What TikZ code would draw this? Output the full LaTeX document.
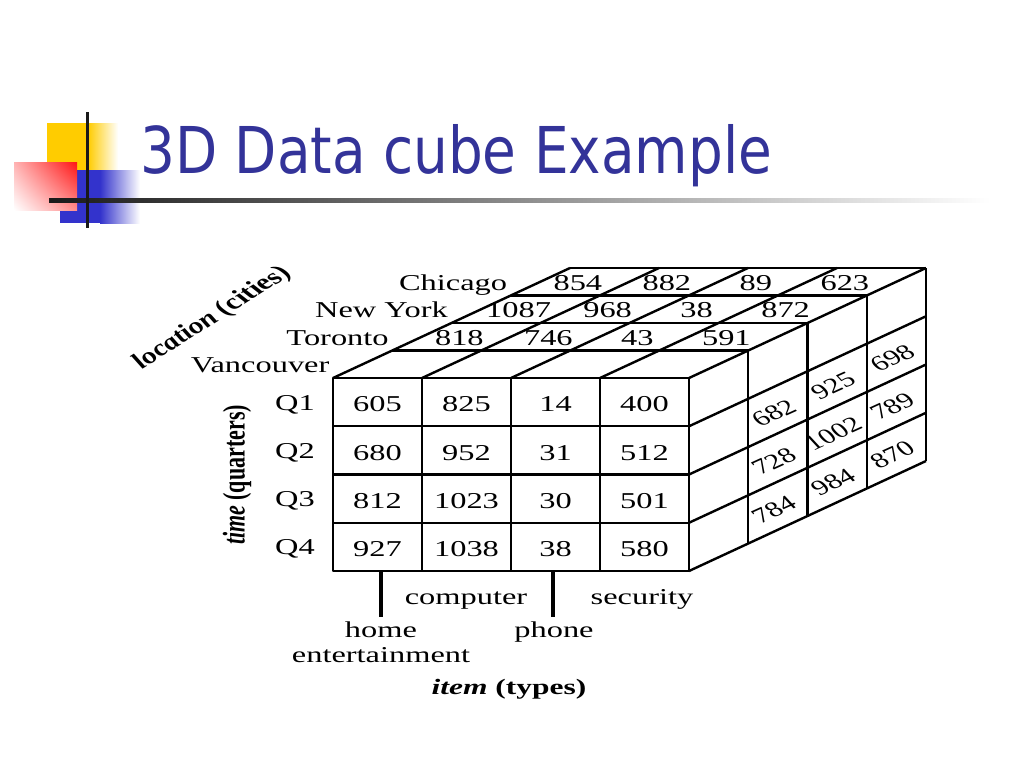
\documentclass[tikz,border=0pt]{standalone}
\usepackage{fontspec}
\usetikzlibrary{shadings}
\setmainfont{Liberation Serif}
\newfontfamily\cf[FakeStretch=1.43]{Liberation Serif}
\newfontfamily\titlefont[FakeStretch=0.85]{DejaVu Sans}
\definecolor{titleblue}{RGB}{51,51,153}
\definecolor{decoyellow}{RGB}{255,204,0}
\definecolor{decoblue}{RGB}{51,51,204}
\definecolor{decored}{RGB}{255,20,20}
\newcommand\myhs[1]{\scalebox{1.43}[1]{#1}}
\begin{document}
\begin{tikzpicture}[x=0.75pt,y=-0.75pt,
  cube/.style={line width=1.8pt, line join=round},
  num/.style={font=\cf\fontsize{17}{20}\selectfont, inner sep=0pt},
  lab/.style={font=\cf\fontsize{17}{20}\selectfont, inner sep=0pt},
  rnum/.style={font=\fontsize{16}{19}\selectfont, inner sep=0pt},
  axis/.style={font=\bfseries\fontsize{16.5}{19.5}\selectfont, inner sep=0pt},
  tick/.style={line width=3pt}]
\useasboundingbox (0,0) rectangle (1024,768);

% ---------- title decoration ----------
\fill[decoyellow] (47,123) rectangle (88,170);
\shade[left color=decoyellow, right color=white] (88,123) rectangle (118,170);
\fill[decoblue] (60,170) rectangle (100,223);
\shade[left color=decoblue, right color=white] (100,170) rectangle (140,223);
\shade[upper left=red!30!white, upper right=decored, lower left=white, lower right=red!45!white] (14,162) rectangle (77,210);
\shade[left color=black!90, right color=white] (49,198.5) rectangle (990,202.5);
\fill[black!90] (85.5,112) rectangle (88.5,228);

% ---------- title ----------
\node[anchor=base west, inner sep=0pt, text=titleblue,
  font=\titlefont\fontsize{48.4}{58}\selectfont] (title) at (140,173) {3D Data cube Example};

% ---------- cube geometry ----------
% front face
\draw[cube] (333,378) rectangle (689,571);
\foreach \i in {1,2,3} \draw[cube] ({333+89*\i},378) -- ({333+89*\i},571);
\foreach \j in {1,2,3} \draw[cube] (333,{378+48.25*\j}) -- (689,{378+48.25*\j});
% top face
\foreach \k in {1,2,3,4}
  \draw[cube] ({333+59.25*\k},{378-27.5*\k}) -- ({689+59.25*\k},{378-27.5*\k});
\foreach \i in {0,...,4}
  \draw[cube] ({333+89*\i},378) -- ({333+89*\i+237},268);
% right face
\foreach \k in {1,...,4}
  \draw[cube] ({689+59.25*\k},{378-27.5*\k}) -- ({689+59.25*\k},{571-27.5*\k});
\foreach \j in {1,...,4}
  \draw[cube] (689,{378+48.25*\j}) -- (926,{268+48.25*\j});

% ---------- front face values ----------
\foreach \v [count=\c from 0] in {605,825,14,400,680,952,31,512,812,1023,30,501,927,1038,38,580}{
  \pgfmathtruncatemacro\i{mod(\c,4)}
  \pgfmathtruncatemacro\j{div(\c,4)}
  \node[num] (f\i\j) at ({333+89*\i+44.5},{378+48.25*\j+26.5}) {\v};
}
% quarter labels
\foreach \q [count=\j from 0] in {Q1,Q2,Q3,Q4}
  \node[lab] (q\j) at (295,{378+48.25*\j+26.5}) {\q};

% ---------- top face values ----------
\foreach \v [count=\c from 0] in {818,746,43,591,1087,968,38,872,854,882,89,623}{
  \pgfmathtruncatemacro\i{mod(\c,4)}
  \pgfmathtruncatemacro\r{div(\c,4)+1}
  \node[num] (t\i\r) at ({333+89*\i+44.5+59.25*(\r+0.5)-7},{378-27.5*(\r+0.5)+1}) {\v};
}
% city labels
\foreach \city [count=\d from 0] in {Vancouver,Toronto,New York,Chicago}
  \node[lab, anchor=base east] (city\d) at ({333+59.25*(\d+0.5)-33},{378-27.5*(\d+0.5)+8.25}) {\city};

% ---------- right face values ----------
\foreach \v [count=\c from 0] in {682,728,784,925,1002,984,698,789,870}{
  \pgfmathtruncatemacro\j{mod(\c,3)+1}
  \pgfmathtruncatemacro\r{div(\c,3)+1}
  \node[rnum] (s\r\j) at ({689+59.25*(\r+0.5)-4},{378+48.25*(\j+0.5)-27.5*(\r+0.5)+4})
    {\myhs{\rotatebox{33}{\v}}};
}

% ---------- item axis ----------
\coordinate (tickA) at (381,571);
\coordinate (tickB) at (553,571);
\draw[tick] (tickA) -- ++(0,46);
\draw[tick] (tickB) -- ++(0,46);
\node[lab, anchor=base] (computer) at (466,604) {computer};
\node[lab, anchor=base] (security) at (642,604) {security};
\node[lab, anchor=base] (home) at (381,637) {home};
\node[lab, anchor=base] (entertainment) at (381,662) {entertainment};
\node[lab, anchor=base] (phone) at (554,637) {phone};
\node[axis, anchor=base] (itemlab) at (509,694) {\myhs{\textit{item} (types)}};

% ---------- other axes ----------
\node[axis] (timelab) at (237,475) {\myhs{\rotatebox{90}{\textit{time} (quarters)}}};
\node[axis] (loclab) at (212,318) {\myhs{\rotatebox{42}{\textit{location} (cities)}}};
\end{tikzpicture}
\end{document}
